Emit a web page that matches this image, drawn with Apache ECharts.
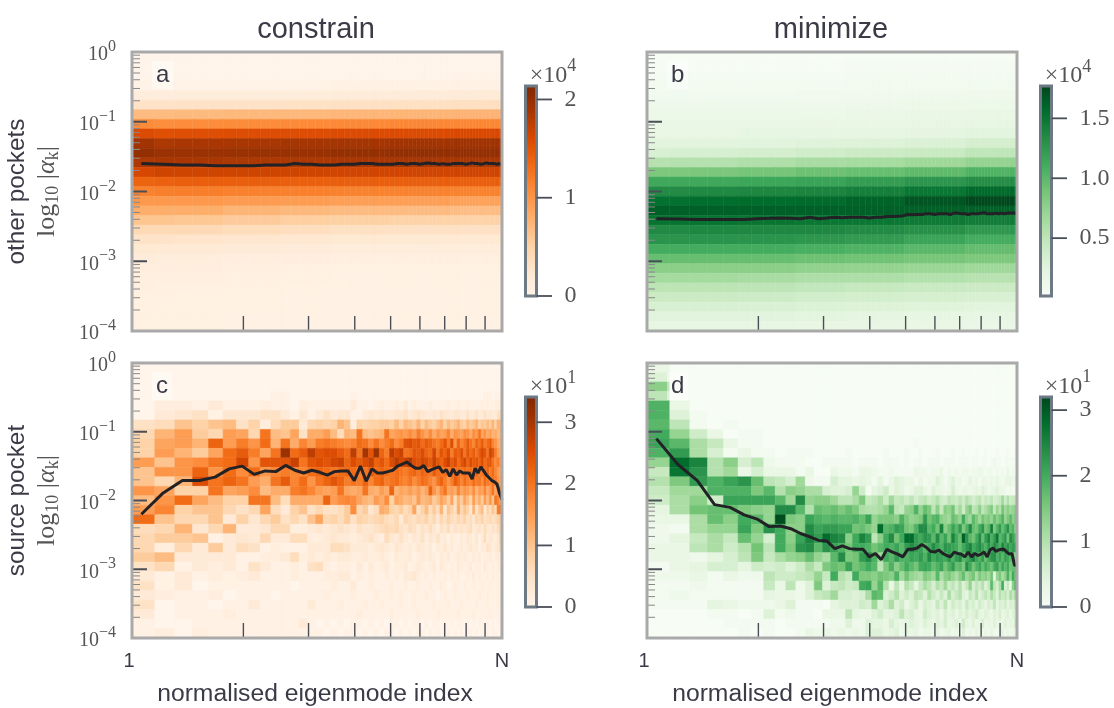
<!DOCTYPE html>
<html><head><meta charset="utf-8">
<style>html,body{margin:0;padding:0;background:#fff}#c{width:1114px;height:708px}</style>
<script src="https://cdn.jsdelivr.net/npm/echarts@6/dist/echarts.min.js"></script>
</head><body><div id="c"></div>
<script>
const titles = ['constrain', 'minimize'];
const rowNames = ['other pockets', 'source pocket'];
const panelLetters = ['a', 'b', 'c', 'd'];
const xName = 'normalised eigenmode index';
const xEndLabels = ['1', 'N'];
const oranges = ['#fff5eb','#fee6ce','#fdd0a2','#fdae6b','#fd8d3c','#f16913','#d94801','#a63603','#7f2704'];
const greens = ['#f7fcf5','#e5f5e0','#c7e9c0','#a1d99b','#74c476','#41ab5d','#238b45','#006d2c','#00441b'];
const nCols = 59, nRows = 29;
const colBlockEnds = [0, 1, 4, 9, 15, 25, 40, 58];

// panel a, in units of 1e4, one value per column block, rows top to bottom
const valuesA = [
[.01,.01,.01,.01,.01,.01,.01,.01],[.01,.01,.01,.01,.01,.01,.02,.02],[.02,.02,.02,.02,.02,.02,.02,.03],
[.05,.05,.05,.05,.05,.06,.06,.07],[.14,.14,.15,.15,.15,.16,.17,.18],[.30,.30,.31,.31,.32,.33,.34,.35],
[.70,.70,.71,.72,.72,.74,.75,.76],[1.08,1.06,1.07,1.08,1.09,1.10,1.11,1.12],[1.58,1.54,1.55,1.56,1.56,1.58,1.58,1.60],
[1.90,1.84,1.85,1.86,1.88,1.88,1.90,1.92],[2.00,1.95,1.95,1.96,1.96,1.98,2.00,2.00],[1.84,1.85,1.85,1.84,1.84,1.85,1.86,1.86],
[1.62,1.66,1.66,1.66,1.66,1.65,1.65,1.66],[1.38,1.40,1.42,1.42,1.41,1.42,1.42,1.42],[1.15,1.17,1.18,1.16,1.16,1.15,1.15,1.15],
[.97,.97,.98,.95,.94,.92,.92,.90],[.80,.80,.80,.75,.72,.70,.70,.68],[.62,.62,.60,.57,.54,.52,.50,.50],
[.42,.42,.42,.38,.36,.34,.33,.33],[.30,.30,.28,.26,.24,.22,.22,.22],[.22,.20,.20,.18,.17,.15,.15,.15],
[.16,.15,.15,.13,.12,.11,.11,.11],[.13,.12,.12,.10,.09,.08,.08,.08],[.11,.10,.10,.09,.08,.07,.07,.07],
[.10,.09,.09,.08,.07,.07,.07,.07],[.09,.09,.08,.08,.07,.07,.07,.07],[.09,.08,.08,.08,.07,.07,.07,.07],
[.08,.08,.08,.07,.07,.07,.07,.07],[.08,.08,.08,.07,.07,.07,.07,.07]];

// panel b, in units of 1e4
const valuesB = [
[.02,.02,.02,.02,.02,.03,.03,.03],[.03,.03,.03,.03,.03,.04,.04,.04],[.05,.05,.05,.05,.05,.06,.06,.06],
[.07,.07,.07,.07,.07,.08,.08,.09],[.09,.09,.09,.09,.10,.10,.11,.12],[.12,.12,.12,.12,.12,.13,.14,.15],
[.15,.15,.15,.15,.15,.16,.17,.18],[.17,.17,.17,.17,.18,.18,.20,.21],[.20,.20,.20,.21,.22,.22,.23,.25],
[.25,.25,.25,.26,.28,.29,.31,.36],[.33,.34,.34,.36,.39,.42,.44,.50],[.55,.56,.56,.59,.63,.64,.68,.74],
[.85,.85,.86,.88,.92,.94,.98,1.05],[1.13,1.13,1.13,1.15,1.17,1.21,1.26,1.32],[1.33,1.33,1.35,1.36,1.38,1.42,1.48,1.56],
[1.52,1.52,1.54,1.55,1.56,1.60,1.68,1.75],[1.62,1.62,1.62,1.62,1.62,1.62,1.62,1.62],[1.50,1.50,1.50,1.49,1.48,1.48,1.46,1.44],
[1.35,1.35,1.36,1.36,1.36,1.34,1.30,1.25],[1.27,1.27,1.27,1.27,1.25,1.22,1.16,1.10],[1.10,1.10,1.10,1.10,1.08,1.05,1.00,.96],
[.95,.95,.95,.95,.92,.90,.87,.85],[.78,.78,.78,.78,.75,.74,.71,.68],[.65,.65,.65,.63,.60,.60,.57,.55],
[.52,.52,.52,.51,.48,.46,.44,.42],[.42,.42,.42,.41,.38,.37,.35,.33],[.33,.33,.33,.32,.30,.29,.27,.26],
[.26,.26,.26,.25,.24,.23,.22,.21],[.22,.22,.22,.21,.20,.19,.18,.17]];

// panel c, counts per cell, rows top to bottom (omitted trailing cells are 0)
const countsC = [
[0],[0],[0],
[0,0,0,0,0,0,0,0,0,1,1,0,0,0, 0,0,0,0,0,1,0,0,0,0,0,0,0,0,0,0,0,0,0,0,0,0,0,0,0,0,0,0,0,0,0,0,0,0,0,0,0,0,1,1,1,0,1,1,1],
[0,2,2,1,3,1,1,1,2,1,1,0,2,1, 1,1,1,1,1,3,1,1,0,1,2,1,1,2,1,3,1,2,1,1,1,2,1,1,1,1,2,1,1,2,1,1,2,1,1,1,1,2,1,2,1,1,2,2,3],
[0,3,4,5,1,4,4,4,5,5,3,1,4,1, 3,5,3,4,4,1,1,3,4,3,4,3,3,4,4,5,3,4,5,4,3,3,4,3,5,4,3,3,4,4,3,3,5,3,3,5,3,3,5,3,4,3,3,5,6],
[5,6,10,8,10,11,5,8,2,6,9,9,3,7, 8,7,8,12,10,2,8,7,8,8,9,9,8,11,8,11,10,9,12,8,11,9,8,10,12,8,11,9,10,12,9,8,11,9,10,12,8,10,9,11,9,12,8,12,12],
[7,12,15,9,7,15,14,7,20,11,10,14,5,13, 13,15,11,6,12,11,20,11,10,11,12,20,14,15,16,15,17,15,19,16,14,17,13,16,14,15,18,13,16,15,14,17,16,13,17,15,20,14,16,13,15,12,13,11,12],
[8,14,15,12,22,15,19,16,21,12,20,13,18,15, 19,20,19,18,17,18,21,20,17,20,17,19,21,17,19,24,25,23,24,21,23,22,20,19,21,24,19,25,16,22,18,20,23,20,18,22,20,23,19,21,23,18,16,13,13],
[8,15,12,9,14,21,23,19,14,20,31,21,23,28, 24,25,25,23,21,28,20,30,24,31,22,19,28,25,27,20,21,24,23,25,22,21,26,20,24,22,25,19,23,22,25,20,24,21,23,20,23,26,24,20,27,24,19,15,14],
[15,10,16,17,20,21,26,16,24,24,24,27,20,24, 25,24,26,27,22,25,23,25,27,22,24,21,25,28,26,27,29,25,24,26,25,23,27,24,22,25,27,23,25,21,24,26,22,25,23,24,22,25,21,23,24,20,17,19,16],
[10,16,16,22,16,21,17,21,16,18,19,18,18,21, 22,21,20,21,22,21,19,20,23,21,22,21,20,21,20,19,21,22,20,22,21,20,23,21,20,21,19,22,20,21,20,21,20,21,20,22,19,20,21,22,19,21,18,15,14],
[10,7,12,25,20,22,20,15,13,20,23,18,21,16, 20,22,24,22,19,20,19,22,18,21,22,19,20,21,19,18,20,17,19,21,20,18,16,20,22,19,16,19,23,21,18,21,19,18,21,19,20,17,21,19,18,20,19,16,15],
[16,14,8,8,20,14,15,17,11,13,13,19,20,18, 15,14,15,20,14,13,14,20,13,12,15,13,22,12,14,13,15,13,15,12,14,22,16,13,17,20,14,15,13,18,14,16,15,13,17,12,15,14,18,13,16,20,14,17,19],
[11,16,21,14,11,8,8,20,20,11,6,13,13,13, 13,22,15,17,18,17,14,12,11,15,13,17,8,14,13,11,12,10,15,11,12,13,9,11,14,12,9,14,6,12,9,14,11,8,15,10,13,9,15,11,16,10,20,18,15],
[15,18,8,10,10,7,5,7,14,6,3,8,10,5, 7,5,5,6,9,17,7,9,4,6,13,12,8,7,9,6,8,14,5,8,11,6,9,6,12,4,10,8,5,13,7,10,8,4,12,5,9,11,3,8,6,10,7,19,20],
[21,10,7,7,10,3,8,4,7,9,5,7,5,10, 14,7,8,6,9,5,8,7,6,7,8,6,5,7,3,7,6,5,7,6,8,5,7,4,7,5,8,6,5,7,6,8,5,6,4,7,6,8,5,6,7,5,6,8,9],
[6,7,12,4,7,12,3,3,4,7,7,2,2,3, 4,3,4,5,4,3,5,4,4,5,6,7,6,7,5,4,6,5,3,5,4,6,4,2,5,4,6,3,5,4,5,4,5,6,3,4,5,3,6,4,3,5,4,6,9],
[7,9,9,10,1,3,4,3,7,3,3,6,6,2, 2,3,4,3,3,2,3,4,5,3,2,6,4,3,5,3,2,4,3,5,2,4,3,5,2,3,1,3,2,1,3,2,4,3,2,4,1,3,6,2,4,3,2,4,8],
[7,2,7,3,9,3,6,5,1,2,1,1,1,3, 3,3,6,6,5,3,3,3,2,3,4,3,2,4,3,2,3,2,4,3,2,3,1,3,2,4,2,3,1,2,3,2,3,4,2,3,1,3,2,5,4,2,3,4,7],
[9,11,3,3,3,3,1,1,2,2,3,6,2,3, 2,3,2,3,3,2,2,3,2,2,3,2,1,3,2,2,3,1,2,3,2,3,2,1,3,2,3,1,2,3,2,3,2,1,3,2,3,1,2,2,3,1,2,3,2],
[5,7,1,3,2,3,1,5,3,1,1,2,1,5, 6,2,1,2,2,1,3,1,3,1,2,3,1,2,2,3,1,2,3,2,1,2,3,1,3,2,1,2,1,3,2,1,2,3,1,2,2,1,3,2,1,2,1,2,3],
[3,1,3,1,2,1,2,3,1,1,1,2,1,1, 1,2,2,3,3,1,2,1,2,1,1,2,1,2,1,3,3,4,2,1,2,1,2,1,1,2,1,2,1,2,1,1,2,1,3,1,2,1,1,2,1,2,1,2,1],
[5,1,3,0,1,1,1,1,1,1,1,0,1,1, 1,1,2,1,1,3,1,1,2,1,1,1,2,1,1,2,1,1,2,1,1,2,1,1,2,1,0,1,2,1,1,2,1,1,2,1,1,2,1,1,2,1,1,2,1],
[3,2,1,1,2,0,1,1,1,0,1,1,1,1, 1,2,1,1,1,2,1,1,1,2,1,1,2,1,2,1,1,2,1,1,2,1,1,0,1,2,1,1,2,1,1,1,2,1,1,1,2,1,1,2,1,1,1,2,1],
[5,0,1,1,0,1,1,3,1,1,1,1,1,3, 1,1,1,2,1,1,1,2,1,1,2,1,1,1,2,1,1,2,1,1,1,1,2,1,1,1,2,1,1,1,2,1,1,1,1,2,1,1,1,2,1,1,1,2,1],
[3,0,1,1,1,2,1,1,1,1,1,1,1,1, 1,1,1,1,1,1,2,1,1,1,1,1,2,1,1,1,1,1,2,1,1,1,1,2,1,1,1,1,1,2,1,1,1,1,2,1,1,1,1,1,2,1,1,1,1],
[1,0,0,1,1,1,1,1,1,1,1,1,3,1, 0,1,0,1,0,1,1,0,1,0,1,0,1,1,0,1,0,1,1,0,1,0,1,1,0,1,0,1,0,1,1,0,1,0,1,0,1,1,0,1,0,1,0,1,1],
[1,2,0,2,1,1,1,1,1,1,1,1,1,1, 1,0,1,0,1,1,0,1,0,1,0,1,1,0,1,0,1,0,1,1,0,1,0,1,0,1,1,0,1,0,1,0,1,1,0,1,0,1,0,1,0,1,1,0,1]];

// panel d, counts per cell, rows top to bottom (omitted trailing cells are 0)
const countsD = [
[3],[5],[14],[9],[19,3],[19,5,1],[18,9,1,0,1],[20,13,7,3,0,1,1],
[21,18,11,8,3,1,1,0,0,0,0,0,0,0, 0,0,0,0,0,0,0,0,0,0,0,0,0,0,1],
[19,22,11,6,1,3,1,1,0,1,1,1,0,0, 0,0,1,0,0,0,0,0,1,0,0,0,1,0,0,1,0,0,0,1,0,0,0,1,0,0,1,0,0,0,1,0,0,1,0,0,0,1,0,0,0,1,0,0,1],
[13,28,25,10,14,6,9,2,1,1,1,0,0,1, 1,1,1,0,1,1,1,0,1,1,1,0,1,0,1,1,0,1,1,1,0,1,1,1,0,1,1,1,0,1,1,0,1,1,0,1,2,1,1,0,1,1,1,1,1],
[8,27,23,10,12,3,6,3,3,3,1,3,0,0, 3,2,2,1,3,3,2,1,1,2,1,1,1,1,3,2,2,1,2,2,3,1,2,1,2,1,2,2,1,2,2,3,2,1,2,2,1,2,1,2,1,3,1,2,1],
[10,15,22,19,21,23,17,9,8,6,12,2,1,1, 6,4,4,3,4,3,1,4,1,3,5,4,3,3,1,3,1,2,2,5,3,1,3,5,2,3,1,2,4,2,3,1,3,3,2,3,2,4,2,1,3,3,4,2,4],
[8,12,12,19,19,19,15,18,10,14,13,11,11,6, 5,5,6,13,7,1,4,5,7,3,5,4,2,3,5,5,3,2,5,3,3,2,3,6,3,2,3,3,2,3,4,3,5,4,2,3,4,5,3,3,2,1,2,1,3],
[7,11,14,7,21,21,21,21,18,12,24,13,14,14, 12,9,9,11,15,8,9,11,7,12,8,9,7,9,6,8,9,7,8,10,7,6,9,8,7,9,7,10,8,6,8,9,6,8,7,9,6,7,8,12,7,10,7,8,9],
[4,11,16,17,17,15,14,13,24,24,18,10,17,16, 17,15,17,15,11,10,10,11,13,18,9,8,13,14,19,13,17,15,9,14,8,14,13,16,9,12,7,13,15,9,10,14,9,11,13,15,8,13,10,16,12,14,12,13,15],
[3,3,11,17,14,20,18,13,31,15,14,21,19,18, 19,18,18,19,17,21,13,15,15,15,14,19,15,13,14,15,22,16,18,19,14,13,12,17,15,13,20,14,12,18,15,12,16,14,15,13,17,14,16,19,13,15,18,14,16],
[2,1,11,13,13,21,15,23,20,14,14,24,21,22, 22,21,21,16,17,15,13,28,18,19,22,21,16,15,19,24,24,18,20,16,25,14,17,21,18,22,15,19,24,17,16,20,23,16,18,26,15,19,22,17,20,23,17,19,14],
[2,4,8,11,8,17,13,6,20,14,21,25,22,28, 25,24,14,20,25,22,9,14,20,24,16,20,28,28,22,20,23,22,18,24,18,21,16,25,20,17,29,23,18,16,20,24,17,22,25,19,22,27,18,20,23,16,24,21,19],
[3,3,9,11,7,10,16,9,20,15,23,24,18,23, 21,19,16,20,20,19,16,18,20,19,21,18,22,24,22,21,18,20,24,21,19,23,22,21,20,17,20,23,25,20,22,24,21,19,23,20,24,22,19,25,21,23,20,22,22],
[3,3,2,4,6,9,15,8,11,13,14,17,13,11, 18,24,15,16,22,24,19,12,20,18,22,19,19,21,20,22,19,24,20,22,21,20,23,19,22,24,18,20,22,25,21,19,22,17,20,23,24,19,21,18,22,20,18,17,14],
[1,3,4,6,6,4,7,6,7,5,7,11,8,15, 17,16,21,16,18,20,18,9,15,19,14,17,20,18,16,20,21,20,17,19,21,16,19,22,17,18,15,24,20,16,19,21,17,20,18,16,20,22,17,21,18,20,16,17,18],
[2,2,3,1,3,2,2,9,7,7,8,9,13,8, 20,10,8,20,15,15,14,16,15,14,19,12,16,13,12,11,15,14,12,18,11,14,15,13,11,14,17,12,14,16,11,15,13,14,12,16,4,13,15,11,14,19,13,20,17],
[1,1,2,1,1,1,1,8,3,9,2,5,15,5, 8,9,7,8,20,21,13,18,10,3,9,4,10,8,4,8,11,9,6,10,8,12,7,9,6,10,5,8,13,6,9,7,10,5,8,18,9,6,11,20,5,8,3,14,19],
[1,2,1,1,1,1,1,4,3,3,2,5,8,9, 12,6,6,5,6,11,18,17,5,7,10,5,7,5,9,8,5,10,7,5,8,5,11,6,8,10,5,4,8,6,10,5,7,9,6,11,8,5,10,7,9,6,11,8,12],
[1,1,1,4,3,2,2,2,3,5,1,1,1,0, 4,5,5,5,7,6,12,5,7,11,5,7,3,5,7,3,6,5,4,8,5,9,4,7,5,6,4,8,5,6,4,7,5,4,6,5,9,4,6,5,7,4,6,5,9],
[0,0,0,1,1,0,1,5,1,2,1,1,0,3, 3,3,9,4,3,3,5,7,4,4,5,9,5,6,4,3,7,5,4,5,3,6,4,5,3,5,4,6,4,5,7,4,3,5,4,3,5,4,6,3,4,5,3,5,7],
[0,0,0,0,1,1,1,1,0,1,1,1,1,1, 2,2,5,2,2,5,4,4,3,6,4,3,4,5,4,3,5,4,3,5,4,6,3,4,5,3,7,4,3,5,3,4,6,3,4,3,5,3,4,3,5,3,4,3,8],
[0,0,0,0,0,1,0,1,0,0,1,3,2,3, 2,3,2,3,2,5,5,5,3,4,5,2,4,3,4,2,3,3,2,4,2,3,4,2,3,2,5,2,3,2,4,3,2,3,2,4,2,2,3,4,2,3,2,3,4]];

// median lines as log10 of the amplitude, one point per column
const medianLogA = [-1.60,-1.61,-1.62,-1.62,-1.63,-1.63,-1.63,-1.63,-1.62,-1.62,-1.62,-1.60,-1.61,-1.61,-1.62,-1.62,-1.62,-1.61,-1.61,-1.61,-1.60,-1.60,-1.60,-1.61,-1.61,-1.61,-1.61,-1.60,-1.60,-1.61,-1.60,-1.60,-1.61,-1.60,-1.59,-1.60,-1.60,-1.61,-1.60,-1.61,-1.61,-1.60,-1.60,-1.60,-1.60,-1.61,-1.60,-1.59,-1.60,-1.60,-1.61,-1.60,-1.59,-1.60,-1.60,-1.60,-1.61,-1.60,-1.61];
const medianLogB = [-2.39,-2.395,-2.40,-2.40,-2.40,-2.40,-2.39,-2.385,-2.38,-2.385,-2.39,-2.37,-2.39,-2.38,-2.37,-2.375,-2.37,-2.37,-2.37,-2.38,-2.37,-2.37,-2.36,-2.36,-2.355,-2.35,-2.33,-2.335,-2.33,-2.33,-2.32,-2.32,-2.33,-2.32,-2.32,-2.32,-2.33,-2.31,-2.31,-2.32,-2.32,-2.33,-2.32,-2.32,-2.32,-2.31,-2.30,-2.32,-2.32,-2.32,-2.31,-2.32,-2.31,-2.32,-2.31,-2.31,-2.31,-2.31,-2.32];
const medianLogC = [-2.20,-1.89,-1.71,-1.71,-1.66,-1.54,-1.50,-1.62,-1.57,-1.58,-1.49,-1.56,-1.60,-1.56,-1.59,-1.63,-1.58,-1.57,-1.57,-1.71,-1.50,-1.72,-1.54,-1.60,-1.60,-1.58,-1.56,-1.50,-1.47,-1.44,-1.49,-1.53,-1.53,-1.49,-1.58,-1.55,-1.53,-1.51,-1.59,-1.55,-1.65,-1.54,-1.63,-1.57,-1.60,-1.60,-1.60,-1.69,-1.53,-1.60,-1.51,-1.57,-1.63,-1.67,-1.71,-1.73,-1.76,-1.89,-1.99];
const medianLogD = [-1.10,-1.48,-1.71,-2.06,-2.10,-2.21,-2.27,-2.38,-2.37,-2.41,-2.48,-2.53,-2.58,-2.59,-2.70,-2.66,-2.70,-2.71,-2.71,-2.82,-2.77,-2.86,-2.71,-2.75,-2.78,-2.82,-2.71,-2.71,-2.69,-2.64,-2.68,-2.74,-2.75,-2.72,-2.77,-2.80,-2.82,-2.75,-2.77,-2.78,-2.82,-2.75,-2.82,-2.77,-2.80,-2.78,-2.75,-2.82,-2.72,-2.69,-2.74,-2.72,-2.71,-2.71,-2.75,-2.78,-2.77,-2.94,-2.95];

// colour ranges and colour bar ticks
const rangeA = [0, 2.137], rangeB = [0.017, 1.77], rangeC = [0, 34.1], rangeD = [0, 32];
const cbTicksA = [0, 1, 2], cbTicksB = [0.5, 1, 1.5], cbTicksC = [0, 10, 20, 30], cbTicksD = [0, 10, 20, 30];
const yLabelValues = [1e-4, 1e-3, 1e-2, 1e-1, 1];
const yMajor = [1e-3, 1e-2, 1e-1];
const yMinor = [2,3,4,5,6,7,8,9].flatMap(m => [1e-4, 1e-3, 1e-2, 1e-1].map(d => m * d));
const xMajor = [2,3,4,5,6,7,8,9];

function hexToRgb(h){return [1,3,5].map(i=>parseInt(h.substr(i,2),16));}
function cmap(stops, t){
  t=Math.max(0,Math.min(1,t))*(stops.length-1);
  const i=Math.min(stops.length-2,Math.floor(t)),f=t-i,a=hexToRgb(stops[i]),b=hexToRgb(stops[i+1]);
  return 'rgb('+a.map((v,j)=>Math.round(v+(b[j]-v)*f)).join(',')+')';
}
const xEdge = k => 1 + k * 9 / nCols;
const yEdge = r => Math.pow(10, -r * 4 / nRows);
const lineX = k => 1.06 + k * 8.94 / (nCols - 1);
const blockOf = k => colBlockEnds.findIndex(e => k <= e);

const TXT = '#3b3b47', SERIF = '"Liberation Serif"', SANS = '"Liberation Sans"', TICK = '#4a4f57';
const panels = [
 {m:k=>r=>valuesA[r][blockOf(k)], stops:oranges, range:rangeA, med:medianLogA, ticks:cbTicksA, exp:'4', div:1, col:0, row:0, digits:0},
 {m:k=>r=>valuesB[r][blockOf(k)], stops:greens, range:rangeB, med:medianLogB, ticks:cbTicksB, exp:'4', div:1, col:1, row:0, digits:1},
 {m:k=>r=>countsC[r][k]??0, stops:oranges, range:rangeC, med:medianLogC, ticks:cbTicksC, exp:'1', div:10, col:0, row:1, digits:0},
 {m:k=>r=>countsD[r][k]??0, stops:greens, range:rangeD, med:medianLogD, ticks:cbTicksD, exp:'1', div:10, col:1, row:1, digits:0}
];
const PL=[132,647], PT=[52,363], PW=370, PH=279;
const CBX=[525.5,1040.5], CBW=11, CBT=[86,397], CBH=210;

const grid=[],xAxis=[],yAxis=[],series=[],title=[];
const supRich={b:{fontFamily:SERIF,fontSize:20,color:'#555',lineHeight:26,verticalAlign:'bottom'},
               s:{fontFamily:SERIF,fontSize:16,color:'#555',lineHeight:26,verticalAlign:'top'}};

// short tick strokes placed through the axis scale
function tickSeries(xi,yi,values,toPoint,dx,dy,color,width,z){
  return {type:'custom',xAxisIndex:xi,yAxisIndex:yi,data:values.map(v=>[v]),silent:true,clip:false,z,
    encode:{x:[],y:[]},
    renderItem:(params,api)=>{
      const p=api.coord(toPoint(api.value(0)));
      return {type:'line',shape:{x1:p[0],y1:p[1],x2:p[0]+dx,y2:p[1]+dy},style:{stroke:color,lineWidth:width}};
    }};
}

panels.forEach((p,i)=>{
  const gi=grid.length;
  grid.push({left:PL[p.col],top:PT[p.row],width:PW,height:PH});
  xAxis.push({gridIndex:gi,type:'log',logBase:10,min:1,max:10,position:'bottom',
    name:p.row?xName:'',nameLocation:'middle',nameGap:44,
    nameTextStyle:{fontFamily:SANS,fontSize:24.7,color:TXT,padding:[0,4,0,0]},
    axisLine:{show:false},splitLine:{show:false},minorTick:{show:false},axisTick:{show:false},
    axisLabel:{show:!!p.row,customValues:[1,10],margin:13,fontFamily:SANS,fontSize:20,color:TXT,
      rich:{l:{fontFamily:SANS,fontSize:20,color:TXT,padding:[0,6,0,0]}},
      formatter:v=>v===1?'{l|'+xEndLabels[0]+'}':xEndLabels[1]}});
  const name = p.col===0 ? '{m|'+rowNames[p.row]+'}\n{n|log}{u|10}{n| |}{g|α}{u|k}{n||}' : '';
  yAxis.push({gridIndex:gi,type:'log',logBase:10,min:1e-4,max:1,
    name,nameLocation:'middle',nameGap:70,nameRotate:90,
    nameTextStyle:{rich:{m:{fontFamily:SANS,fontSize:24.3,color:TXT,lineHeight:30},
      n:{fontFamily:SERIF,fontSize:26,color:'#555',lineHeight:30},
      g:{fontFamily:SERIF,fontStyle:'italic',fontSize:26,color:'#555',lineHeight:30},
      u:{fontFamily:SERIF,fontSize:18,color:'#555',lineHeight:30,verticalAlign:'bottom'}}},
    axisLine:{show:false},splitLine:{show:false},minorTick:{show:false},axisTick:{show:false},
    axisLabel:{show:p.col===0,margin:16,customValues:yLabelValues,rich:supRich,
      formatter:v=>'{b|10}{s|'+(Math.round(Math.log10(v))===0?'0':'−'+Math.abs(Math.round(Math.log10(v))))+'}'}});
  const xi=xAxis.length-1, yi=yAxis.length-1;
  const data=[];
  for(let r=0;r<nRows;r++)for(let k=0;k<nCols;k++)data.push([xEdge(k),xEdge(k+1),yEdge(r+1),yEdge(r),p.m(k)(r)]);
  series.push({type:'custom',xAxisIndex:xi,yAxisIndex:yi,data,silent:true,clip:true,z:1,
    encode:{x:[0,1],y:[2,3]},
    renderItem:(params,api)=>{
      const a=api.coord([api.value(0),api.value(3)]),b=api.coord([api.value(1),api.value(2)]);
      const fill=cmap(p.stops,(api.value(4)-p.range[0])/(p.range[1]-p.range[0]));
      return {type:'rect',shape:{x:a[0],y:a[1],width:b[0]-a[0],height:b[1]-a[1]},
        style:{fill,stroke:fill,lineWidth:0.5}};
    }});
  series.push(tickSeries(xi,yi,yMinor,v=>[1,v],8,0,'#888',1,3));
  series.push(tickSeries(xi,yi,yMajor,v=>[1,v],15,0,TICK,2,3));
  series.push(tickSeries(xi,yi,xMajor,v=>[v,1e-4],0,-15,TICK,1.4,3));
  series.push({type:'line',xAxisIndex:xi,yAxisIndex:yi,z:5,showSymbol:false,silent:true,clip:true,
    data:p.med.map((l,k)=>[lineX(k),Math.pow(10,l)]),
    lineStyle:{color:'#222226',width:3},animation:false});
  series.push({type:'custom',xAxisIndex:xi,yAxisIndex:yi,data:[[1,1e-4,10,1]],silent:true,clip:false,z:6,
    encode:{x:[0,2],y:[1,3]},
    renderItem:(params,api)=>{
      const a=api.coord([1,1]),b=api.coord([10,1e-4]);
      return {type:'rect',shape:{x:a[0],y:a[1],width:b[0]-a[0],height:b[1]-a[1]},
        style:{fill:'none',stroke:'#a9a9a9',lineWidth:3}};
    }});
  // colour bar
  const cgi=grid.length;
  grid.push({left:CBX[p.col],top:CBT[p.row],width:CBW,height:CBH});
  xAxis.push({gridIndex:cgi,type:'value',min:0,max:1,show:false});
  yAxis.push({gridIndex:cgi,type:'value',position:'right',min:p.range[0],max:p.range[1],
    name:'{b|×10}{s|'+p.exp+'}',nameLocation:'end',nameGap:-2,
    nameTextStyle:{rich:{b:{fontFamily:SERIF,fontSize:24,color:'#555',lineHeight:30,verticalAlign:'bottom'},
      s:{fontFamily:SERIF,fontSize:18,color:'#555',lineHeight:30,verticalAlign:'top'}},padding:[0,0,0,55]},
    axisLine:{show:false},splitLine:{show:false},axisTick:{show:false},
    axisLabel:{margin:28,customValues:p.ticks,fontFamily:SERIF,fontSize:24,color:'#555',
      formatter:v=>(v/p.div).toFixed(p.digits)}});
  const cx=xAxis.length-1, cy=yAxis.length-1;
  series.push({type:'custom',xAxisIndex:cx,yAxisIndex:cy,silent:true,clip:false,z:3,
    data:[[0,p.range[0],1,p.range[1]]],encode:{x:[0,2],y:[1,3]},
    renderItem:(params,api)=>{
      const a=api.coord([0,p.range[1]]),b=api.coord([1,p.range[0]]);
      return {type:'rect',shape:{x:a[0],y:a[1],width:b[0]-a[0],height:b[1]-a[1]},
        style:{stroke:'#6d7a85',lineWidth:3,
          fill:new echarts.graphic.LinearGradient(0,1,0,0,p.stops.map((c,j)=>({offset:j/(p.stops.length-1),color:c})))}};
    }});
  series.push(tickSeries(cx,cy,p.ticks,v=>[1,v],15.5,0,TICK,1.8,4));
  title.push({text:panelLetters[i],left:PL[p.col]+20,top:PT[p.row]+9,padding:[2,4,2,4],
    backgroundColor:'rgba(255,255,255,0.45)',
    textStyle:{fontFamily:SANS,fontSize:24,fontWeight:'normal',color:TXT}});
});
titles.forEach((t,c)=>title.push({text:t,left:PL[c]+PW/2-6,top:10,textAlign:'center',
  textStyle:{fontFamily:SANS,fontSize:29,fontWeight:'normal',color:TXT}}));

const chart=echarts.init(document.getElementById('c'),null,{renderer:'canvas'});
chart.setOption({animation:false,backgroundColor:'#fff',tooltip:{show:false},title,grid,xAxis,yAxis,series});
</script></body></html>
